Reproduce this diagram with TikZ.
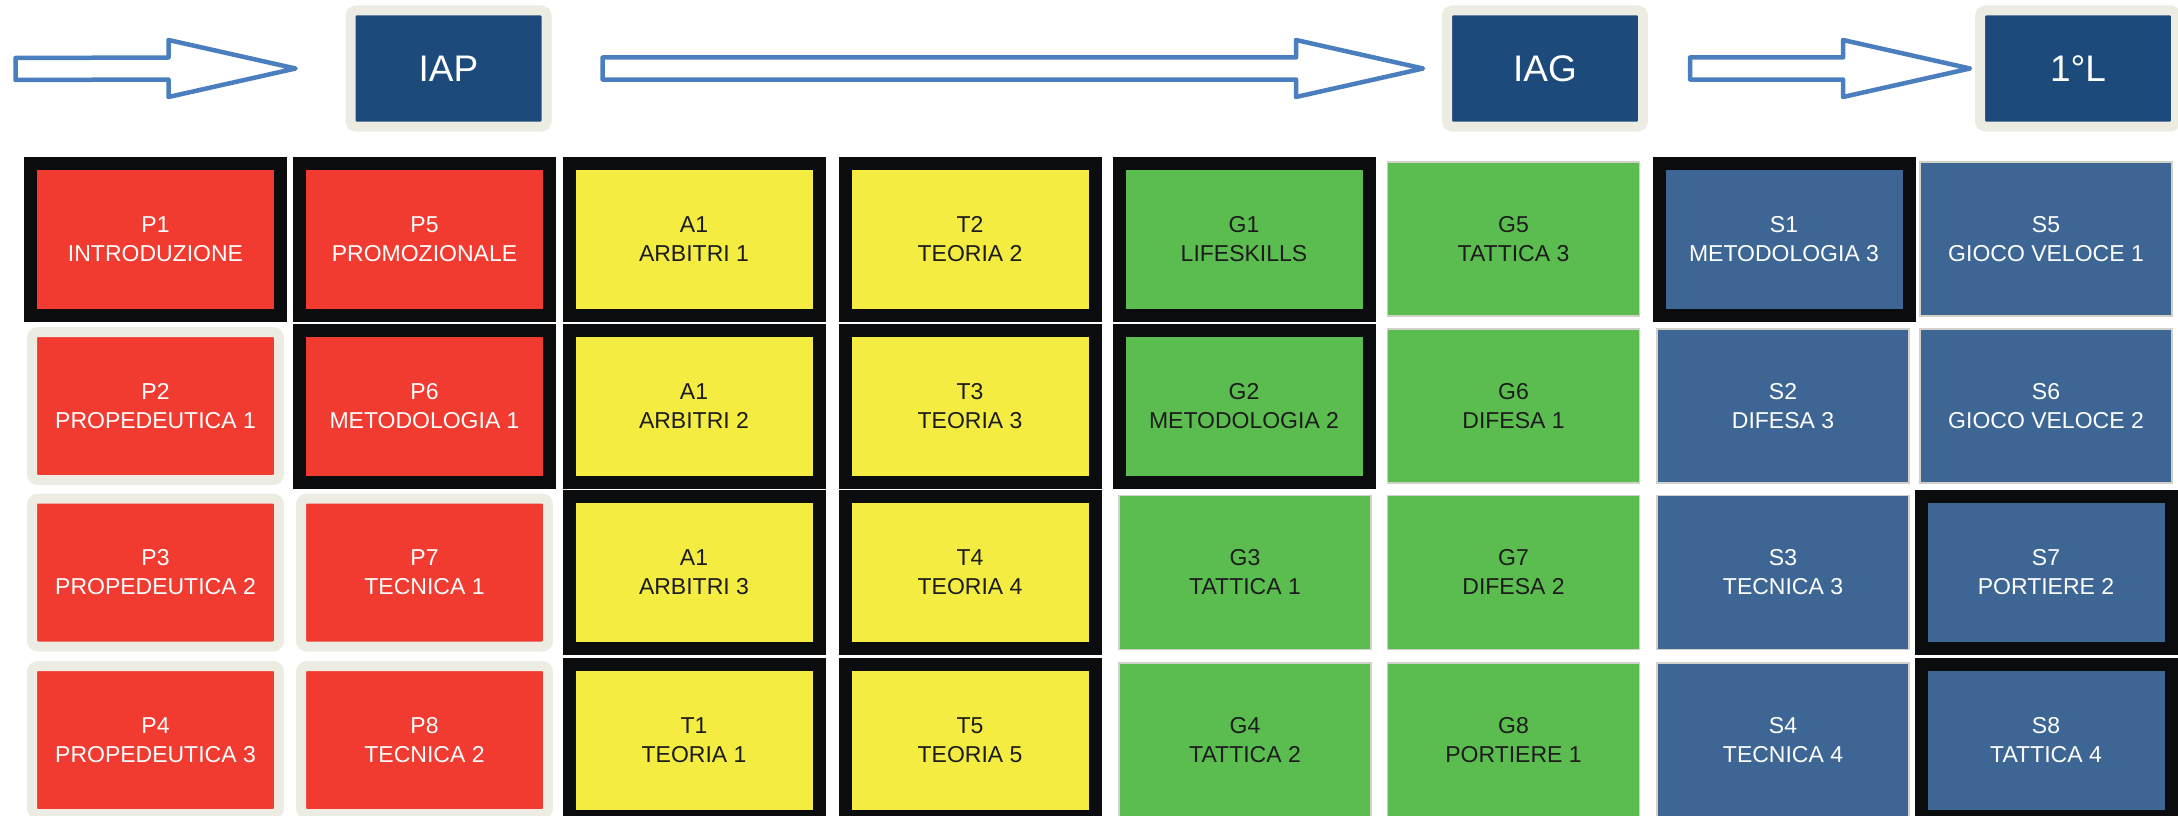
\documentclass[tikz,border=0pt]{standalone}
\usepackage{fontspec}
\setmainfont{Liberation Sans}
\usetikzlibrary{calc}
\definecolor{cred}{RGB}{241,58,48}
\definecolor{cyellow}{RGB}{244,236,64}
\definecolor{cgreen}{RGB}{91,189,79}
\definecolor{csteel}{RGB}{62,102,149}
\definecolor{cnavy}{RGB}{28,74,122}
\definecolor{cbeige}{RGB}{236,236,226}
\definecolor{cframe}{RGB}{11,12,14}
\definecolor{carrow}{RGB}{74,126,190}
\definecolor{cdark}{RGB}{28,28,28}
\tikzset{
  cell/.style={rectangle, align=center, inner sep=0pt, font={\fontsize{23}{29}\selectfont}},
  blackframe/.style={cell, draw=cframe, line width=13pt, minimum width=250pt, minimum height=152pt},
  beigeframe/.style={cell, draw=cbeige, line width=10pt, rounded corners=6pt, minimum width=247pt, minimum height=148pt},
  plainbox/.style={cell, draw=cbeige!75!gray, line width=1.2pt, minimum width=252pt, minimum height=154pt},
  pred/.style={fill=cred, text=white},
  pyellow/.style={fill=cyellow, text=cdark},
  pgreen/.style={fill=cgreen, text=cdark},
  psteel/.style={fill=csteel, text=white},
  topbox/.style={rectangle, draw=cbeige, line width=10pt, rounded corners=5pt, fill=cnavy, text=white,
    inner sep=0pt, minimum width=196pt, minimum height=116pt, font={\fontsize{37}{44}\selectfont}},
  barrow/.style={draw=carrow, fill=white, line width=4.5pt, line join=round}
}
\newcommand\blockarrow[2]{%
  \draw[barrow] ($(#1)+(0,-11)$) -- ($(#2)+(-127,-11)$) -- ($(#2)+(-127,-28.5)$) -- (#2)
    -- ($(#2)+(-127,28.5)$) -- ($(#2)+(-127,11)$) -- ($(#1)+(0,11)$) -- cycle;}
\begin{document}
\begin{tikzpicture}[x=1pt,y=-1pt]
\useasboundingbox (0,0) rectangle (2178,816);
% top boxes
\node[topbox] (IAP) at (448.5,68.5) {IAP};
\node[topbox] (IAG) at (1545,68.5) {IAG};
\node[topbox] (L1) at (2078,68.5) {1°L};
% arrows
\coordinate (a1s) at (15.5,69);
\coordinate (a1e) at ($(IAP.west)+(-50,0)$);
\coordinate (a2s) at ($(IAP.east)+(51,0)$);
\coordinate (a2e) at ($(IAG.west)+(-19,0)$);
\coordinate (a3s) at ($(IAG.east)+(42,0)$);
\coordinate (a3e) at ($(L1.west)+(-5,0)$);
\blockarrow{a1s}{a1e}
\blockarrow{a2s}{a2e}
\blockarrow{a3s}{a3e}
% column 1
\node[blackframe,pred] (P1) at (155.5,239) {P1\\INTRODUZIONE};
\node[beigeframe,pred] (P2) at (155.5,406) {P2\\PROPEDEUTICA 1};
\node[beigeframe,pred] (P3) at (155.5,572.5) {P3\\PROPEDEUTICA 2};
\node[beigeframe,pred] (P4) at (155.5,740) {P4\\PROPEDEUTICA 3};
% column 2
\node[blackframe,pred] (P5) at (424.5,239) {P5\\PROMOZIONALE};
\node[blackframe,pred] (P6) at (424.5,406) {P6\\METODOLOGIA 1};
\node[beigeframe,pred] (P7) at (424.5,572.5) {P7\\TECNICA 1};
\node[beigeframe,pred] (P8) at (424.5,740) {P8\\TECNICA 2};
% column 3
\node[blackframe,pyellow] (A1a) at (694,239) {A1\\ARBITRI 1};
\node[blackframe,pyellow] (A1b) at (694,406) {A1\\ARBITRI 2};
\node[blackframe,pyellow] (A1c) at (694,572.5) {A1\\ARBITRI 3};
\node[blackframe,pyellow] (T1) at (694,740) {T1\\TEORIA 1};
% column 4
\node[blackframe,pyellow] (T2) at (970,239) {T2\\TEORIA 2};
\node[blackframe,pyellow] (T3) at (970,406) {T3\\TEORIA 3};
\node[blackframe,pyellow] (T4) at (970,572.5) {T4\\TEORIA 4};
\node[blackframe,pyellow] (T5) at (970,740) {T5\\TEORIA 5};
% column 5
\node[blackframe,pgreen] (G1) at (1244,239) {G1\\LIFESKILLS};
\node[blackframe,pgreen] (G2) at (1244,406) {G2\\METODOLOGIA 2};
\node[plainbox,pgreen] (G3) at (1245,572.5) {G3\\TATTICA 1};
\node[plainbox,pgreen] (G4) at (1245,740) {G4\\TATTICA 2};
% column 6
\node[plainbox,pgreen] (G5) at (1513.5,239) {G5\\TATTICA 3};
\node[plainbox,pgreen] (G6) at (1513.5,406) {G6\\DIFESA 1};
\node[plainbox,pgreen] (G7) at (1513.5,572.5) {G7\\DIFESA 2};
\node[plainbox,pgreen] (G8) at (1513.5,740) {G8\\PORTIERE 1};
% column 7
\node[blackframe,psteel] (S1) at (1784,239) {S1\\METODOLOGIA 3};
\node[plainbox,psteel] (S2) at (1783,406) {S2\\DIFESA 3};
\node[plainbox,psteel] (S3) at (1783,572.5) {S3\\TECNICA 3};
\node[plainbox,psteel] (S4) at (1783,740) {S4\\TECNICA 4};
% column 8
\node[plainbox,psteel] (S5) at (2046,239) {S5\\GIOCO VELOCE 1};
\node[plainbox,psteel] (S6) at (2046,406) {S6\\GIOCO VELOCE 2};
\node[blackframe,psteel] (S7) at (2046,572.5) {S7\\PORTIERE 2};
\node[blackframe,psteel] (S8) at (2046,740) {S8\\TATTICA 4};
\end{tikzpicture}
\end{document}
